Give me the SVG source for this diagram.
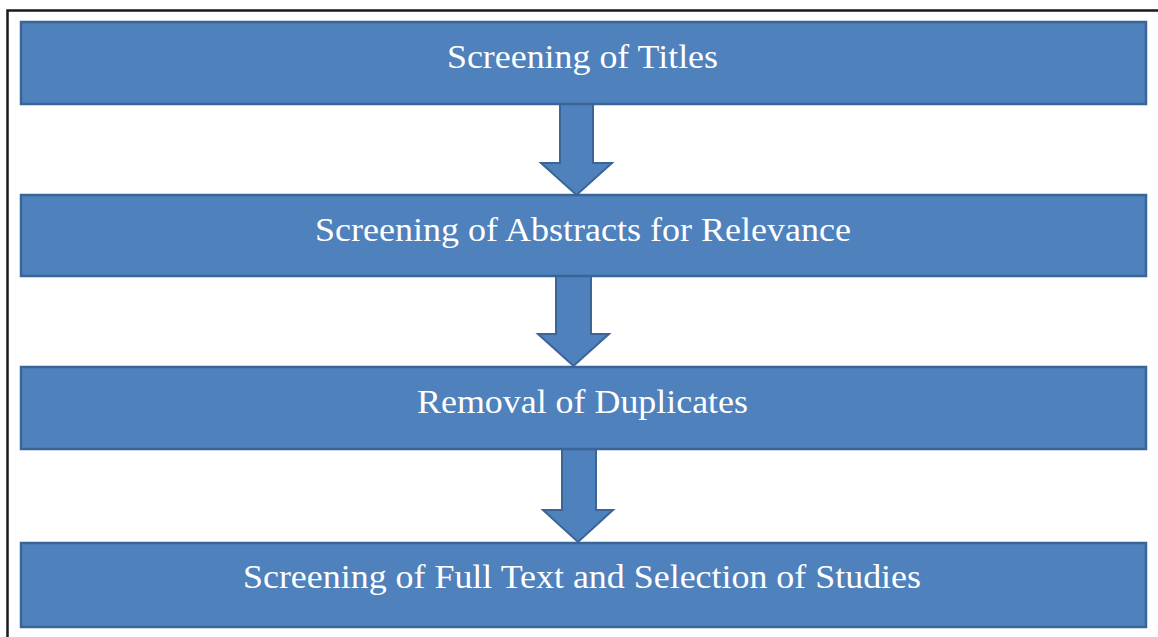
<svg xmlns="http://www.w3.org/2000/svg" width="1158" height="637" viewBox="0 0 1158 637">
<style>
.box{fill:#4F81BD;stroke:#3B6596;stroke-width:2.5}
.arr{fill:#4F81BD;stroke:#3B6596;stroke-width:2;stroke-linejoin:miter}
.lbl{font-family:"Liberation Serif","Times New Roman",serif;font-size:33px;fill:#FFFFFF}
</style>
<rect x="0" y="0" width="1158" height="637" fill="#FFFFFF"/>
<path d="M7.5 637 V10.5 H1158" fill="none" stroke="#1A1A1A" stroke-width="2.5"/>
<g id="connectors">
<path class="arr" d="M560 104 H593 V163 H612 L576.5 195 L541 163 H560 Z"/>
<path class="arr" d="M556 276 H591 V334 H609 L573.5 366 L538 334 H556 Z"/>
<path class="arr" d="M562 449 H596 V510 H613 L578 542 L543 510 H562 Z"/>
</g>
<g id="node1">
<rect class="box" x="21" y="22" width="1125" height="82"/>
<text class="lbl" x="447" y="68" textLength="271" lengthAdjust="spacingAndGlyphs">Screening of Titles</text>
</g>
<g id="node2">
<rect class="box" x="21" y="195" width="1125" height="81"/>
<text class="lbl" x="315" y="241" textLength="536" lengthAdjust="spacingAndGlyphs">Screening of Abstracts for Relevance</text>
</g>
<g id="node3">
<rect class="box" x="21" y="367" width="1125" height="82"/>
<text class="lbl" x="417" y="413" textLength="331" lengthAdjust="spacingAndGlyphs">Removal of Duplicates</text>
</g>
<g id="node4">
<rect class="box" x="21" y="543" width="1125" height="84"/>
<text class="lbl" x="243" y="588" textLength="678" lengthAdjust="spacingAndGlyphs">Screening of Full Text and Selection of Studies</text>
</g>
</svg>
